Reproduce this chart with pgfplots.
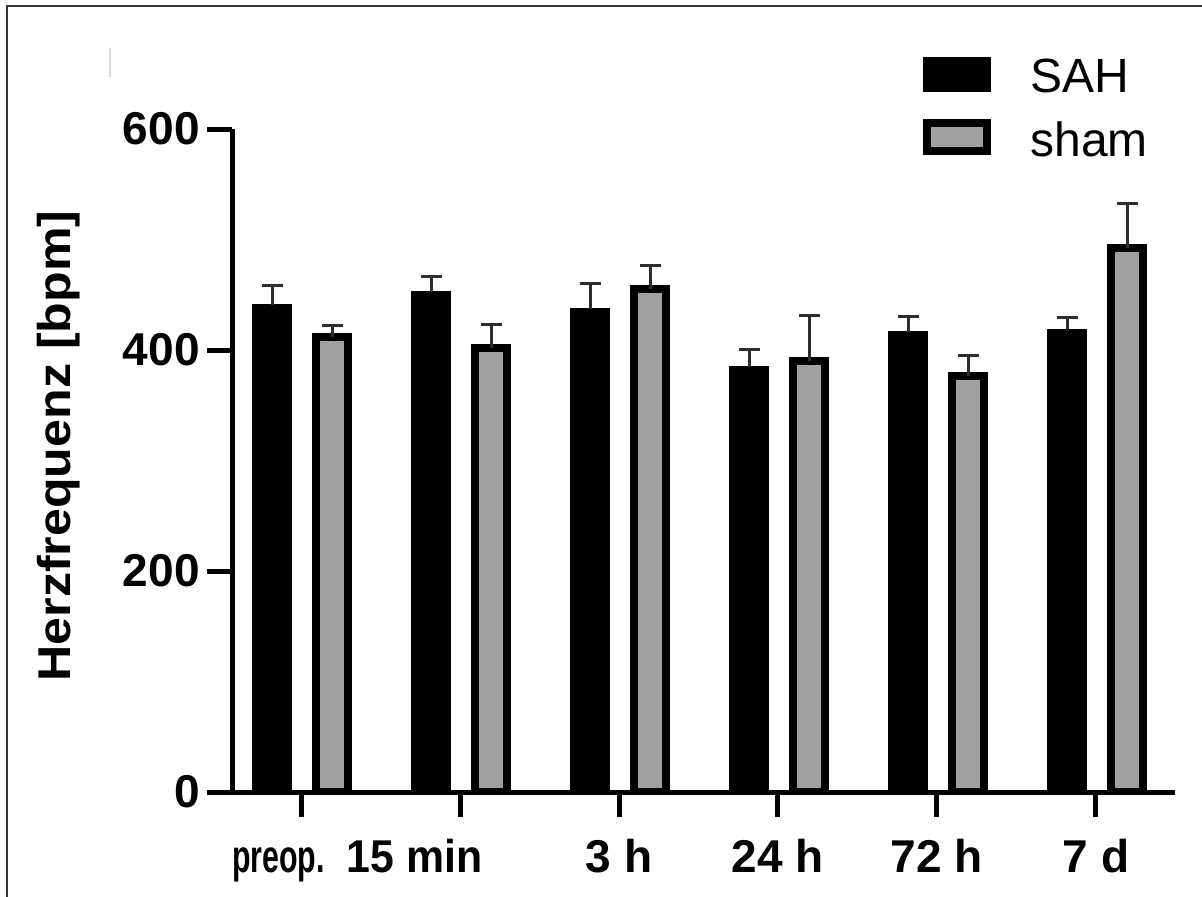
\documentclass[border=0pt]{standalone}
\usepackage{fontspec}
\setmainfont{Liberation Sans}
\usepackage{graphicx}
\usepackage{pgfplots}
\pgfplotsset{compat=1.18}
\usepackage{pgfplotstable}
\definecolor{shamgray}{RGB}{160,160,160}
\definecolor{errc}{RGB}{45,45,45}

% x positions: category index + bar offset (SAH -0.181, sham +0.198)
\pgfplotstableread{
x y e
-0.181 441 17
0.819 452.8 13.6
1.819 437 23
2.819 384.3 16.3
3.819 416.6 13.4
4.819 418 11.6
}\sahtable
\pgfplotstableread{
x y e
0.198 412 10.6
1.198 401.8 21.2
2.198 455.2 21.7
3.198 389.8 41.2
4.198 376.8 17.8
5.198 492.4 40.6
}\shamtable

\begin{document}
\begin{tikzpicture}
\path[use as bounding box] (0,0) rectangle (601pt,-448.5pt);
\draw[line width=0.75pt, color=black!80] (3.5pt,-448.5pt) -- (3.5pt,-3pt) -- (601pt,-3pt);
\draw[line width=0.6pt, black!15] (55pt,-24pt) -- (55pt,-38.5pt);
\begin{axis}[
  at={(116pt,-396pt)}, anchor=south west,
  scale only axis, width=471.5pt, height=331.5pt,
  xmin=-0.434, xmax=5.497, ymin=0, ymax=600,
  axis x line=bottom, axis y line=left,
  axis line style={-, line width=2.5pt},
  every tick/.style={black, line width=2.5pt},
  major tick length=12.5pt,
  tick align=outside,
  xtick={0,1,2,3,4,5}, ytick={0,200,400,600},
  xticklabels={
    {\hspace*{-11.25pt}\makebox[0pt]{\scalebox{0.66}[1]{preop.}}\hspace*{11.25pt}},
    {\hspace*{-22.75pt}\makebox[0pt]{\scalebox{0.93}[1]{15 min}}\hspace*{22.75pt}},
    3 h, 24 h, 72 h, 7 d},
  /pgf/number format/assume math mode=true,
  tick label style={font=\fontsize{23}{27}\selectfont\bfseries},
  xticklabel style={anchor=north, inner sep=0pt, text height=16pt, text depth=4pt, yshift=-11.5pt},
  yticklabel style={anchor=east, inner sep=0pt, xshift=-3.5pt},
  axis on top,
]
\addplot[ybar, bar width=19pt, bar shift=0pt, fill=black, draw=black, line width=1pt,
  error bars/.cd, y dir=plus, y explicit,
  error bar style={line width=1.5pt, errc},
  error mark options={rotate=90, mark size=5.25pt, line width=1.5pt, errc}]
  table[x=x, y=y, y error=e]{\sahtable};
\addplot[ybar, bar width=16pt, bar shift=0pt, fill=shamgray, draw=black, line width=4pt,
  error bars/.cd, y dir=plus, y explicit,
  error bar style={line width=1.5pt, errc},
  error mark options={rotate=90, mark size=5.25pt, line width=1.5pt, errc}]
  table[x=x, y=y, y error=e]{\shamtable};
\end{axis}
% legend
\fill[black] (461.5pt,-28.5pt) rectangle (495.5pt,-46pt);
\draw[line width=4pt, fill=shamgray] (463.5pt,-61.5pt) rectangle (493.5pt,-75.5pt);
\node[anchor=base west, inner sep=0pt, font=\fontsize{24}{28}\selectfont] at (515pt,-46.5pt) {SAH};
\node[anchor=base west, inner sep=0pt, font=\fontsize{24}{28}\selectfont] at (515pt,-78.5pt) {sham};
% y label
\node[rotate=90, anchor=base, inner sep=0pt, font=\fontsize{23}{27}\selectfont\bfseries] at (35pt,-223pt) {\scalebox{1.09}[1]{Herzfrequenz [bpm]}};
\end{tikzpicture}
\end{document}
